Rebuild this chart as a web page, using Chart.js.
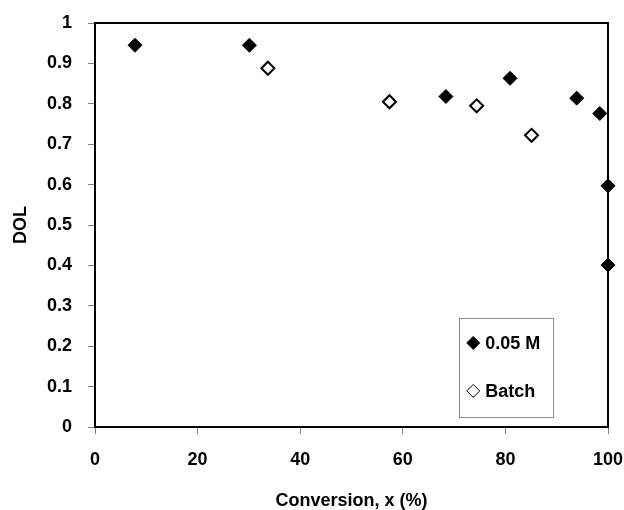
<!DOCTYPE html>
<html>
<head>
<meta charset="utf-8">
<script src="https://cdn.jsdelivr.net/npm/chart.js@4"></script>
<style>
    body { margin: 0; background: #fff; }
    #wrap { width: 624px; height: 510px; }
</style>
</head>
<body>
<div id="wrap"><canvas id="dolChart" width="624" height="510"></canvas></div>
<script>
// Data
const conv05M = [7.8, 30.1, 68.4, 80.9, 93.9, 98.4, 100, 100];
const dol05M = [0.945, 0.945, 0.818, 0.863, 0.814, 0.776, 0.597, 0.401];
const convBatch = [33.7, 57.4, 74.4, 85.1];
const dolBatch = [0.888, 0.805, 0.795, 0.722];
const xTickValues = [0, 20, 40, 60, 80, 100];
const yTickValues = [0, 0.1, 0.2, 0.3, 0.4, 0.5, 0.6, 0.7, 0.8, 0.9, 1];

const FONT = "'Liberation Sans', Arial, Helvetica, sans-serif";

// Frame around the plot area + legend box in the lower right
const framePlugin = {
    id: 'frame',
    afterDatasetsDraw(chart) {
        const { ctx, chartArea: a, scales } = chart;
        ctx.save();
        ctx.strokeStyle = '#000';
        ctx.lineWidth = 2;
        ctx.strokeRect(a.left, a.top, a.right - a.left, a.bottom - a.top);

        // legend box
        const x0 = scales.x.getPixelForValue(71);
        const x1 = scales.x.getPixelForValue(89.3);
        const y0 = scales.y.getPixelForValue(0.27);
        const y1 = scales.y.getPixelForValue(0.025);
        ctx.fillStyle = '#fff';
        ctx.fillRect(x0, y0, x1 - x0, y1 - y0);
        ctx.strokeStyle = '#8c8c8c';
        ctx.lineWidth = 1;
        ctx.strokeRect(Math.round(x0) + 0.5, Math.round(y0) + 0.5, Math.round(x1 - x0), Math.round(y1 - y0));

        ctx.font = 'bold 18px ' + FONT;
        ctx.textBaseline = 'middle';
        ctx.textAlign = 'left';
        chart.data.datasets.forEach((ds, i) => {
            const cy = y0 + 25 + i * 48;
            const cx = x0 + 14;
            ctx.fillStyle = ds.pointBackgroundColor;
            ctx.strokeStyle = ds.pointBorderColor;
            Chart.helpers.drawPoint(ctx, {
                pointStyle: 'rectRot',
                radius: 6.5,
                borderWidth: ds.pointBorderWidth,
                rotation: 0
            }, cx, cy);
            ctx.fillStyle = '#000';
            ctx.fillText(ds.label, cx + 12, cy + 1);
        });
        ctx.restore();
    }
};

const ctx = document.getElementById('dolChart').getContext('2d');
new Chart(ctx, {
    type: 'scatter',
    data: {
        datasets: [
            {
                label: '0.05 M',
                data: conv05M.map((x, i) => ({ x: x, y: dol05M[i] })),
                pointStyle: 'rectRot',
                pointRadius: 7,
                pointBackgroundColor: '#000',
                pointBorderColor: '#000',
                pointBorderWidth: 1,
                clip: false
            },
            {
                label: 'Batch',
                data: convBatch.map((x, i) => ({ x: x, y: dolBatch[i] })),
                pointStyle: 'rectRot',
                pointRadius: 6.5,
                pointBackgroundColor: '#fff',
                pointBorderColor: '#000',
                pointBorderWidth: 2,
                clip: false
            }
        ]
    },
    options: {
        responsive: false,
        animation: false,
        layout: { padding: { left: 0, right: 16, top: 23, bottom: 0 } },
        plugins: {
            legend: { display: false },
            tooltip: { enabled: false }
        },
        scales: {
            x: {
                type: 'linear',
                min: 0,
                max: 100,
                afterBuildTicks: s => { s.ticks = xTickValues.map(v => ({ value: v })); },
                afterFit: s => { s.height = 83; s.paddingLeft = 0; s.paddingRight = 0; },
                grid: { drawOnChartArea: false, drawTicks: true, tickLength: 7, tickColor: '#808080' },
                border: { display: false },
                ticks: {
                    color: '#000',
                    padding: 15,
                    maxRotation: 0,
                    font: { family: FONT, size: 18, weight: 'bold' },
                    callback: v => String(v)
                },
                title: {
                    display: true,
                    text: 'Conversion, x (%)',
                    color: '#000',
                    padding: { top: 0, bottom: -2 },
                    font: { family: FONT, size: 18, weight: 'bold' }
                }
            },
            y: {
                type: 'linear',
                min: 0,
                max: 1,
                afterBuildTicks: s => { s.ticks = yTickValues.map(v => ({ value: v })); },
                afterFit: s => { s.width = 95; s.paddingTop = 0; s.paddingBottom = 0; },
                grid: { drawOnChartArea: false, drawTicks: true, tickLength: 7, tickColor: '#808080' },
                border: { display: false },
                ticks: {
                    color: '#000',
                    padding: 16,
                    font: { family: FONT, size: 18, weight: 'bold' },
                    callback: v => String(v)
                },
                title: {
                    display: true,
                    text: 'DOL',
                    color: '#000',
                    padding: { top: 10, bottom: 0 },
                    font: { family: FONT, size: 18, weight: 'bold' }
                }
            }
        }
    },
    plugins: [framePlugin]
});
</script>
</body>
</html>
